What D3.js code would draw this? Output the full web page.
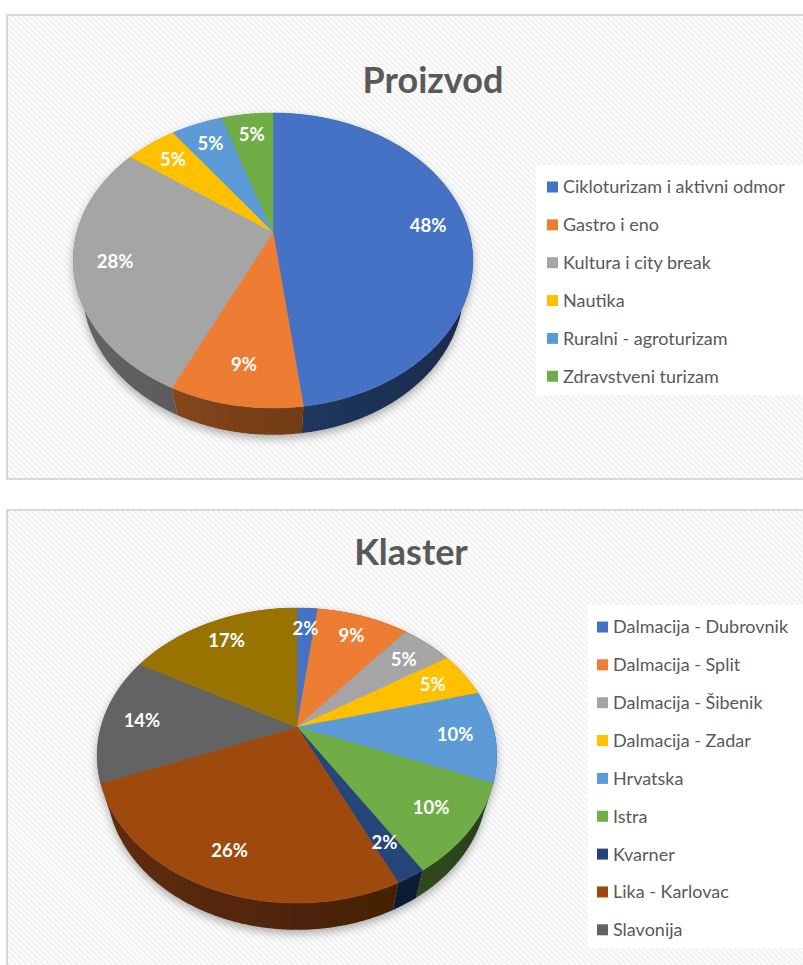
<!DOCTYPE html>
<html>
<head>
<meta charset="utf-8">
<script src="https://cdn.jsdelivr.net/npm/d3@7"></script>
<style>
  body { margin: 0; background: #fff; }
  text { font-family: Lato, "Open Sans", sans-serif; }
</style>
</head>
<body>
<div id="chart"></div>
<script>
// Données - graphique 1 (Proizvod)
const proizvodLabels = ['Cikloturizam i aktivni odmor', 'Gastro i eno', 'Kultura i city break', 'Nautika', 'Ruralni - agroturizam', 'Zdravstveni turizam'];
const proizvodValues = [48, 9, 28, 5, 5, 5];

// Données - graphique 2 (Klaster) : la 10e entrée de la légende est coupée dans l'original
const klasterLabels = ['Dalmacija - Dubrovnik', 'Dalmacija - Split', 'Dalmacija - Šibenik', 'Dalmacija - Zadar', 'Hrvatska', 'Istra', 'Kvarner', 'Lika - Karlovac', 'Slavonija'];
const klasterValues = [2, 9, 5, 5, 10, 10, 2, 26, 14, 17];

// Palette Office
const officeColors = ['#4472C4', '#ED7D31', '#A5A5A5', '#FFC000', '#5B9BD5', '#70AD47', '#264478', '#9E480E', '#636363', '#997300'];

const svgWidth = 803;
const svgHeight = 965;

const svg = d3.select('#chart')
    .append('svg')
    .attr('width', svgWidth)
    .attr('height', svgHeight);

const defs = svg.append('defs');

// Fond hachuré
const hatch = defs.append('pattern')
    .attr('id', 'hatch')
    .attr('patternUnits', 'userSpaceOnUse')
    .attr('width', 4)
    .attr('height', 4)
    .attr('patternTransform', 'rotate(-45)');
hatch.append('rect').attr('width', 4).attr('height', 4).attr('fill', '#fdfdfd');
hatch.append('line')
    .attr('x1', 1).attr('y1', 0).attr('x2', 1).attr('y2', 4)
    .attr('stroke', '#efefef')
    .attr('stroke-width', 1.6);

// Ombre sous les camemberts
const shadow = defs.append('filter')
    .attr('id', 'shadow')
    .attr('x', '-20%').attr('y', '-20%')
    .attr('width', '140%').attr('height', '140%');
shadow.append('feDropShadow')
    .attr('dx', 0).attr('dy', 4)
    .attr('stdDeviation', 4)
    .attr('flood-color', '#000')
    .attr('flood-opacity', 0.3);

// Perspective 3D (inclinaison, distance de la caméra, épaisseur)
const phi = 46.4 * Math.PI / 180;
const S = Math.sin(phi), C = Math.cos(phi);
const camD = 3.57, camF = 700, thickness = 0.23;

function darken(c, f) {
    const rgb = d3.rgb(c);
    return d3.rgb(rgb.r * f, rgb.g * f, rgb.b * f).formatHex();
}

function drawChart(opts) {
    const { values, labels, title, frameY, frameH, cx, cy, titleX, titleY, legendX, legendY, legendBox, prefix } = opts;

    // Cadre
    svg.append('rect')
        .attr('x', 7).attr('y', frameY)
        .attr('width', 820).attr('height', frameH)
        .attr('fill', 'url(#hatch)')
        .attr('stroke', '#d9d9d9')
        .attr('stroke-width', 2);

    // Titre
    svg.append('text')
        .attr('x', titleX).attr('y', titleY)
        .attr('text-anchor', 'middle')
        .attr('font-size', 36)
        .attr('font-weight', 'bold')
        .attr('fill', '#595959')
        .text(title);

    const proj = (theta, r, h) => {
        const X = r * Math.sin(theta), Z = -r * Math.cos(theta);
        const Yc = Z * S + h * C, Zc = Z * C - h * S;
        const k = camF / (camD - Zc);
        return [cx + k * X, cy + k * Yc];
    };

    const arcPoints = (a0, a1, r, h) => {
        const n = Math.max(2, Math.ceil((a1 - a0) / 0.01));
        return d3.range(n + 1).map(i => proj(a0 + (a1 - a0) * i / n, r, h));
    };

    const pie = d3.pie().sort(null)(values);
    const total = d3.sum(values);
    const line = d3.line();

    const g = svg.append('g').attr('filter', 'url(#shadow)');

    // Côtés (de l'arrière vers l'avant)
    const sides = pie.slice().sort((a, b) =>
        -Math.cos((a.startAngle + a.endAngle) / 2) - -Math.cos((b.startAngle + b.endAngle) / 2));

    sides.forEach(d => {
        const col = officeColors[d.index];
        const gid = prefix + '-side-' + d.index;
        const grad = defs.append('linearGradient')
            .attr('id', gid)
            .attr('gradientUnits', 'userSpaceOnUse')
            .attr('x1', cx - 205).attr('x2', cx + 205)
            .attr('y1', 0).attr('y2', 0);
        grad.append('stop').attr('offset', 0).attr('stop-color', darken(col, 0.62));
        grad.append('stop').attr('offset', 1).attr('stop-color', darken(col, 0.37));

        const top = arcPoints(d.startAngle, d.endAngle, 1, 0);
        const bottom = arcPoints(d.startAngle, d.endAngle, 1, thickness).reverse();
        g.append('path')
            .attr('d', line(top.concat(bottom)) + 'Z')
            .attr('fill', 'url(#' + gid + ')');
    });

    // Faces supérieures
    pie.forEach(d => {
        const pts = [proj(0, 0, 0)].concat(arcPoints(d.startAngle, d.endAngle, 1, 0));
        g.append('path')
            .attr('d', line(pts) + 'Z')
            .attr('fill', officeColors[d.index])
            .attr('stroke', officeColors[d.index])
            .attr('stroke-width', 0.5);
    });

    // Étiquettes de pourcentage
    pie.forEach(d => {
        const p = proj((d.startAngle + d.endAngle) / 2, 0.8, 0);
        svg.append('text')
            .attr('x', p[0]).attr('y', p[1])
            .attr('dy', '0.36em')
            .attr('text-anchor', 'middle')
            .attr('font-size', 18.5)
            .attr('font-weight', 'bold')
            .attr('fill', '#fff')
            .text(Math.round(d.value / total * 100) + '%');
    });

    // Légende
    svg.append('rect')
        .attr('x', legendBox[0]).attr('y', legendBox[1])
        .attr('width', legendBox[2]).attr('height', legendBox[3])
        .attr('fill', '#fff');

    const step = 37.85;
    labels.forEach((lab, i) => {
        const y = legendY + i * step;
        svg.append('rect')
            .attr('x', legendX).attr('y', y - 5.5)
            .attr('width', 11).attr('height', 11)
            .attr('fill', officeColors[i]);
        svg.append('text')
            .attr('x', legendX + 16).attr('y', y)
            .attr('dy', '0.36em')
            .attr('font-size', 18)
            .attr('fill', '#595959')
            .text(lab);
    });
}

drawChart({
    values: proizvodValues, labels: proizvodLabels, title: 'Proizvod', prefix: 'p',
    frameY: 15, frameH: 464, cx: 273, cy: 232, titleX: 433, titleY: 93,
    legendX: 547, legendY: 187, legendBox: [536, 165, 280, 230]
});

drawChart({
    values: klasterValues, labels: klasterLabels, title: 'Klaster', prefix: 'k',
    frameY: 510, frameH: 500, cx: 297, cy: 727, titleX: 411, titleY: 565,
    legendX: 597, legendY: 627, legendBox: [588, 605, 230, 343]
});
</script>
</body>
</html>
